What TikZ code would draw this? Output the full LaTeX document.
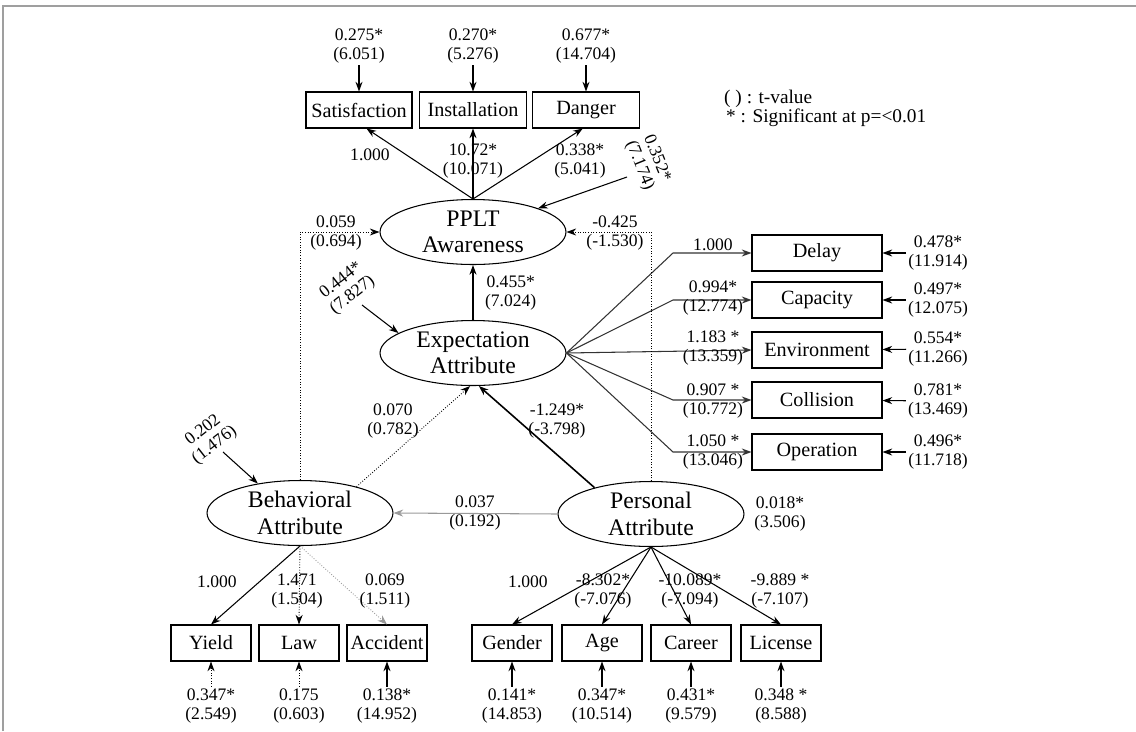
\documentclass[tikz,border=0pt]{standalone}
\usepackage{fontspec}
\setmainfont{Liberation Serif}
\usetikzlibrary{shapes.geometric, arrows.meta}

\begin{document}
\begin{tikzpicture}[x=0.02cm, y=-0.02cm, font=\fontsize{10}{10.6}\selectfont,
    >={Stealth[length=5.5pt, width=4pt]}]

    % Define colors and styles
    \colorlet{framecolor}{gray!75}
    \colorlet{linkcolor}{black!80}
    \colorlet{faintcolor}{gray!80}
    \tikzset{
        latent/.style={draw, ellipse, line width=0.6pt, minimum width=3.72cm, minimum height=1.3cm, inner sep=0pt, align=center, font=\fontsize{13.5}{15}\selectfont},
        indicator/.style={draw, line width=0.6pt, minimum height=0.72cm, inner sep=1pt, font=\fontsize{11.5}{13}\selectfont},
        coef/.style={align=center, inner sep=1pt},
        link/.style={->, line width=0.6pt},
        weaklink/.style={->, densely dotted, line width=0.5pt}
    }

    \useasboundingbox (0,0) rectangle (1136,731);

    % ===== FRAME =====
    \draw[framecolor, line width=1.2pt] (3,731) -- (3,6) -- (1136,6);

    % ===== LEGEND (top right) =====
    \node[anchor=west, font=\fontsize{11}{13}\selectfont] (legt) at (718,99) {( ) : t-value};
    \node[anchor=west, font=\fontsize{11}{13}\selectfont] (legs) at (720,118) {* : Significant at p=<0.01};

    % 1. Latent constructs
    \node[latent] (pplt) at (473,232) {PPLT\\Awareness};
    \node[latent] (expect) at (473,353) {Expectation\\Attribute};
    \node[latent] (behav) at (300,513) {Behavioral\\Attribute};
    \node[latent] (pers) at (651,514) {Personal\\Attribute};

    % 2. PPLT awareness indicators
    \node[indicator, minimum width=2.12cm] (sat) at (359,110) {Satisfaction};
    \node[indicator, minimum width=2.14cm] (inst) at (473,110) {Installation};
    \node[indicator, minimum width=2.14cm] (dang) at (586,110) {Danger};

    \node[coef] (esat) at (359,46) {0.275*\\(6.051)};
    \node[coef] (einst) at (473,46) {0.270*\\(5.276)};
    \node[coef] (edang) at (586,46) {0.677*\\(14.704)};
    \draw[link] (esat) -- (sat);
    \draw[link] (einst) -- (inst);
    \draw[link] (edang) -- (dang);

    \draw[link] (pplt.north) -- (sat.-68);
    \draw[link] (pplt.north) -- (inst.south);
    \draw[link] (pplt.north) -- (dang.-100);
    \node[coef] at (370,155) {1.000};
    \node[coef] at (473,161) {10.72*\\(10.071)};
    \node[coef] at (580,161) {0.338*\\(5.041)};

    % disturbance of PPLT awareness
    \coordinate (dpplt) at (627,177);
    \draw[link] (dpplt) -- (pplt.20);
    \node[coef, rotate=-68] at (648,162) {0.352*\\(7.174)};

    % 3. Expectation attribute indicators
    \coordinate (bend) at (673,0);
    \node[indicator, minimum width=2.6cm] (delay) at (817,253) {Delay};
    \node[indicator, minimum width=2.6cm] (capac) at (817,300) {Capacity};
    \node[indicator, minimum width=2.6cm] (envir) at (817,350) {Environment};
    \node[indicator, minimum width=2.6cm] (colli) at (817,400) {Collision};
    \node[indicator, minimum width=2.6cm] (oper) at (817,452) {Operation};

    \draw[link, linkcolor] (expect.east) -- (delay.west -| bend) -- (delay.west);
    \draw[link, linkcolor] (expect.east) -- (capac.west -| bend) -- (capac.west);
    \draw[link, linkcolor] (expect.east) -- (envir.west);
    \draw[link, linkcolor] (expect.east) -- (colli.west -| bend) -- (colli.west);
    \draw[link, linkcolor] (expect.east) -- (oper.west -| bend) -- (oper.west);
    \node[coef] at (713,245) {1.000};
    \node[coef] at (713,298) {0.994*\\(12.774)};
    \node[coef] at (713,348) {1.183 *\\(13.359)};
    \node[coef] at (713,401) {0.907 *\\(10.772)};
    \node[coef] at (713,452) {1.050 *\\(13.046)};

    \node[coef] (edelay) at (938,253) {0.478*\\(11.914)};
    \node[coef] (ecapac) at (938,300) {0.497*\\(12.075)};
    \node[coef] (eenvir) at (938,349) {0.554*\\(11.266)};
    \node[coef] (ecolli) at (938,401) {0.781*\\(13.469)};
    \node[coef] (eoper) at (938,452) {0.496*\\(11.718)};
    \draw[link] (edelay) -- (delay);
    \draw[link] (ecapac) -- (capac);
    \draw[link] (eenvir) -- (envir);
    \draw[link] (ecolli) -- (colli);
    \draw[link] (eoper) -- (oper);

    % 4. Structural paths
    \draw[link] (expect.north) -- (pplt.south);
    \node[coef, anchor=west] at (483,293) {0.455*\\(7.024)};

    \draw[weaklink] (behav.north) |- (pplt.west);
    \node[coef] at (336,233) {0.059\\(0.694)};
    \draw[weaklink] (pers.north) |- (pplt.east);
    \node[coef] at (615,233) {-0.425\\(-1.530)};

    \draw[weaklink] (behav.25) -- (expect.-95);
    \node[coef] at (393,421) {0.070\\(0.782)};
    \draw[->, line width=0.9pt] (pers.155) -- (expect.-80);
    \node[coef] at (557,421) {-1.249*\\(-3.798)};

    \draw[link, faintcolor] (pers.west) -- (behav.east);
    \node[coef] at (475,513) {0.037\\(0.192)};

    % disturbances of expectation and behavioral attributes
    \coordinate (dexpect) at (362,305);
    \draw[link] (dexpect) -- (expect.165);
    \node[coef, rotate=38] at (347,288) {0.444*\\(7.827)};
    \coordinate (dbehav) at (223,452);
    \draw[link] (dbehav) -- (behav.145);
    \node[coef, rotate=38] at (209,438) {0.202\\(1.476)};
    \node[coef] at (780,514) {0.018*\\(3.506)};

    % 5. Behavioral attribute indicators
    \node[indicator, minimum width=1.6cm] (yield) at (211,643) {Yield};
    \node[indicator, minimum width=1.6cm] (law) at (299,643) {Law};
    \node[indicator, minimum width=1.6cm] (accid) at (387,643) {Accident};

    \draw[link] (behav.south) -- (yield.north);
    \draw[weaklink] (behav.south) -- (law.north);
    \draw[weaklink, faintcolor] (behav.south) -- (accid.north);
    \node[coef] at (217,582) {1.000};
    \node[coef] at (297,591) {1.471\\(1.504)};
    \node[coef] at (385,591) {0.069\\(1.511)};

    \node[coef] (eyield) at (211,706) {0.347*\\(2.549)};
    \node[coef] (elaw) at (299,706) {0.175\\(0.603)};
    \node[coef] (eaccid) at (387,706) {0.138*\\(14.952)};
    \draw[weaklink] (eyield) -- (yield);
    \draw[weaklink] (elaw) -- (law);
    \draw[link] (eaccid) -- (accid);

    % 6. Personal attribute indicators
    \node[indicator, minimum width=1.6cm] (gender) at (512,643) {Gender};
    \node[indicator, minimum width=1.6cm] (age) at (602,643) {Age};
    \node[indicator, minimum width=1.6cm] (career) at (691,643) {Career};
    \node[indicator, minimum width=1.6cm] (lic) at (781,643) {License};

    \draw[link] (pers.south) -- (gender.north);
    \draw[link] (pers.south) -- (age.north);
    \draw[link] (pers.south) -- (career.north);
    \draw[link] (pers.south) -- (lic.north);
    \node[coef] at (528,582) {1.000};
    \node[coef] at (603,591) {-8.302*\\(-7.076)};
    \node[coef] at (690,591) {-10.089*\\(-7.094)};
    \node[coef] at (780,591) {-9.889 *\\(-7.107)};

    \node[coef] (egender) at (512,706) {0.141*\\(14.853)};
    \node[coef] (eage) at (602,706) {0.347*\\(10.514)};
    \node[coef] (ecareer) at (691,706) {0.431*\\(9.579)};
    \node[coef] (elic) at (781,706) {0.348 *\\(8.588)};
    \draw[link] (egender) -- (gender);
    \draw[link] (eage) -- (age);
    \draw[link] (ecareer) -- (career);
    \draw[link] (elic) -- (lic);

\end{tikzpicture}
\end{document}
